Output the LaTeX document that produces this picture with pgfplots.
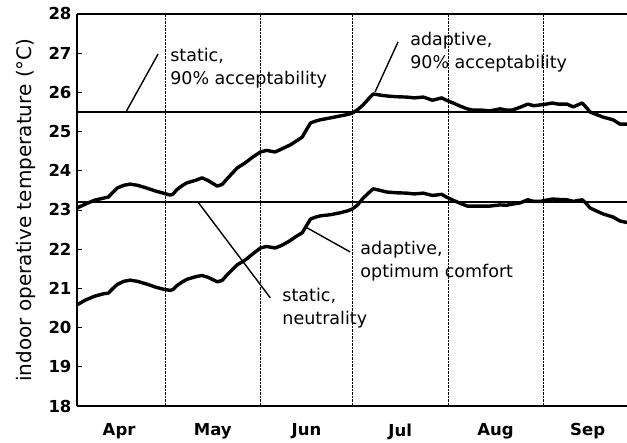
\documentclass[border=0pt]{standalone}
\usepackage{pgfplots}
\pgfplotsset{compat=1.18}
\usepackage{fontspec}
\setmainfont{DejaVu Sans}
\pgfplotstableread{
d t
1.3 23.05
4 23.15
7 23.25
9.8 23.3
11.5 23.33
13 23.45
14.4 23.56
16.5 23.63
18.6 23.66
21 23.63
24 23.56
27 23.48
29.4 23.43
31.6 23.38
32.5 23.4
33.8 23.52
35.5 23.62
37 23.69
40 23.76
42 23.82
44 23.75
46.9 23.61
48.5 23.65
50.2 23.8
53.4 24.07
56 24.2
58.5 24.35
61 24.48
63 24.52
65.8 24.48
68 24.56
70.7 24.66
72.5 24.75
74.6 24.86
76 25.05
77.3 25.22
79 25.27
80.5 25.3
83.8 25.35
87 25.4
89 25.43
90.8 25.47
92.5 25.55
94.4 25.68
96 25.82
97.7 25.96
100 25.93
102 25.91
105 25.89
108.7 25.88
111 25.86
114 25.88
117 25.8
120 25.86
121.5 25.8
123.7 25.73
126 25.65
128.3 25.58
130 25.55
132.5 25.55
135.7 25.53
139 25.58
141 25.55
143 25.55
145.5 25.62
148 25.7
150 25.66
152 25.68
154 25.7
156 25.73
158 25.7
160.8 25.7
162.8 25.63
165.7 25.73
167 25.62
168.3 25.5
170.5 25.43
172.5 25.37
175.8 25.3
178 25.19
180.3 25.19
}\upperdata
\pgfplotstableread{
d t
1.3 20.58
4 20.7
7 20.8
9.8 20.86
11.5 20.88
13 21.0
14.4 21.1
16.5 21.18
18.6 21.21
21 21.18
24 21.11
27 21.03
29.4 20.98
31.6 20.95
32.5 20.97
33.8 21.07
35.5 21.16
37 21.23
40 21.3
42 21.33
44 21.28
46.9 21.17
48.5 21.2
50.2 21.35
53.4 21.6
56 21.72
58.5 21.88
61 22.03
63 22.07
65.8 22.03
68 22.1
70.7 22.22
72.5 22.32
74.6 22.42
76 22.6
77.3 22.77
79 22.82
80.5 22.85
83.8 22.88
87 22.93
89 22.97
90.8 23.02
92.5 23.12
94.4 23.3
96 23.42
97.7 23.54
100 23.5
102 23.46
105 23.44
108.7 23.43
111 23.41
114 23.43
117 23.37
120 23.4
121.5 23.33
123.7 23.25
126 23.17
128.3 23.1
130 23.1
132.5 23.1
135.7 23.1
139 23.13
141 23.12
143 23.15
145.5 23.18
148 23.26
150 23.22
152 23.22
154 23.25
156 23.28
158 23.27
160.8 23.26
162.8 23.22
165.7 23.26
167 23.17
168.3 23.05
170.5 22.97
172.5 22.9
175.8 22.82
178 22.72
180.3 22.68
}\lowerdata
\begin{document}
\begin{tikzpicture}
\begin{axis}[
  scale only axis,
  width=550pt, height=392pt,
  xmin=1.3, xmax=180.3,
  ymin=18, ymax=28,
  axis x line=box,
  axis y line=left,
  axis line style={-, line width=1.8pt},
  ytick={18,...,28},
  yticklabel style={font=\fontsize{16.5}{18}\selectfont\bfseries, xshift=-2pt},
  /pgf/number format/assume math mode=true,
  ytick style={line width=0.9pt, black},
  tick align=inside,
  major tick length=5pt,
  xtick={15,45.5,76,106.5,137.5,167.5},
  xticklabels={Apr,May,Jun,Jul,Aug,Sep},
  xticklabel style={font=\fontsize{16.5}{18}\selectfont\bfseries, yshift=-14pt},
  x tick style={draw=none},
  extra x ticks={30,61,91,122,153},
  extra x tick labels={},
  extra x tick style={grid=major, major grid style={densely dotted, black, line width=0.6pt}, tick style={draw=none}},
  ylabel={indoor operative temperature (°C)},
  ylabel style={font=\fontsize{20}{22}\selectfont, yshift=6pt},
  clip=false,
]
\addplot[black, line width=2.3pt] coordinates {(1.3,25.5) (180.3,25.5)};
\addplot[black, line width=2.3pt] coordinates {(1.3,23.2) (180.3,23.2)};
\addplot[black, line width=3.4pt, line join=round] table[x=d,y=t] {\upperdata};
\addplot[black, line width=3.4pt, line join=round] table[x=d,y=t] {\lowerdata};
% pointer lines
\addplot[black, line width=1.4pt] coordinates {(27.7,26.98) (17.3,25.51)};
\addplot[black, line width=1.4pt] coordinates {(105.8,27.29) (98.3,26.01)};
\addplot[black, line width=1.4pt] coordinates {(40.7,23.2) (64.2,20.76)};
\addplot[black, line width=1.4pt] coordinates {(75.6,22.57) (90.2,21.93)};
\node[anchor=west, align=left, inner sep=0pt, font=\fontsize{17.5}{23.5}\selectfont] at (axis cs:31.6,26.62) {static,\\90\% acceptability};
\node[anchor=west, align=left, inner sep=0pt, font=\fontsize{17.5}{23.5}\selectfont] at (axis cs:109.7,27.03) {adaptive,\\90\% acceptability};
\node[anchor=west, align=left, inner sep=0pt, font=\fontsize{17.5}{23.5}\selectfont] at (axis cs:68.1,20.5) {static,\\neutrality};
\node[anchor=west, align=left, inner sep=0pt, font=\fontsize{17.5}{23.5}\selectfont] at (axis cs:93.5,21.69) {adaptive,\\optimum comfort};
\end{axis}
\pgfresetboundingbox
\path[use as bounding box] ([xshift=-77pt,yshift=-37pt]current axis.south west) rectangle ([yshift=14pt]current axis.north east);
\end{tikzpicture}
\end{document}
